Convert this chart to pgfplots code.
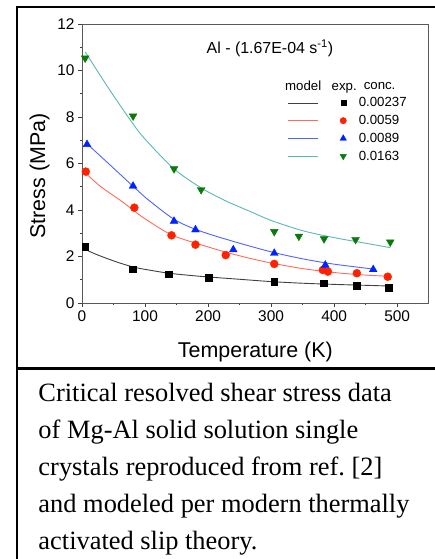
\documentclass[border=0pt]{standalone}
\usepackage{fontspec}
\setmainfont{Liberation Serif}
\newfontfamily\arial{Liberation Sans}
\usepackage{pgfplots}
\pgfplotsset{compat=1.18}
\definecolor{mblack}{HTML}{404040}
\definecolor{mred}{HTML}{FF6B5B}
\definecolor{mblue}{HTML}{4F63FF}
\definecolor{mteal}{HTML}{5BB8B5}
\definecolor{pred}{HTML}{FF2200}
\definecolor{pblue}{HTML}{0022FF}
\definecolor{pgreen}{HTML}{0A7A0A}
\frenchspacing
\begin{document}
\begin{tikzpicture}[x=1bp,y=1bp]
\useasboundingbox (0,0) rectangle (435,559);
\begin{axis}[
  scale only axis, width=346.7bp, height=279bp,
  at={(82bp,256bp)}, anchor=south west,
  xmin=0, xmax=550, ymin=0, ymax=12,
  xtick={0,100,...,500}, ytick={0,2,...,12},
  minor x tick num=1, minor y tick num=1,
  tick pos=left, tick align=outside,
  major tick length=4bp, minor tick length=2.5bp,
  axis line style={draw=black!65, line width=0.8bp},
  every tick/.style={black!75, line width=0.8bp},
  tick label style={font=\arial\fontsize{15.5}{17}\selectfont},
  /pgf/number format/assume math mode=true,
  xlabel={Temperature (K)}, ylabel={Stress (MPa)},
  label style={font=\arial\fontsize{21.5}{24}\selectfont},
  xlabel style={at={(axis description cs:0.5,-0.197)}, anchor=base},
  ylabel style={at={(axis description cs:-0.1067,0.455)}, anchor=base},
  legend style={at={(axis description cs:0.5855,0.80)}, anchor=north west,
    draw=none, fill=none, inner sep=0pt, row sep=3bp,
    font=\arial\fontsize{13.3}{15}\selectfont},
  legend cell align=left,
]
% model curves
\addplot[mblack, line width=0.9bp, smooth, forget plot] coordinates {
(3,2.33) (20,2.12) (39,1.92) (60,1.72) (84,1.53) (110,1.40) (138,1.28) (170,1.19) (200,1.12) (250,1.02) (300,0.92) (350,0.85) (400,0.80) (450,0.76) (487,0.73)};
\addplot[mred, line width=0.9bp, smooth, forget plot] coordinates {
(5,5.6) (30,5.0) (60,4.43) (81,4.0) (100,3.62) (142,2.93) (187,2.52) (229,2.18) (265,1.93) (300,1.72) (350,1.48) (400,1.31) (450,1.20) (487,1.15)};
\addplot[mblue, line width=0.9bp, smooth, forget plot] coordinates {
(7,6.87) (40,6.05) (81,5.02) (100,4.55) (146,3.6) (187,3.1) (240,2.65) (300,2.2) (350,1.9) (400,1.67) (462,1.46)};
\addplot[mteal, line width=0.9bp, smooth, forget plot] coordinates {
(5,10.8) (44,9.16) (81,7.7) (100,7.05) (145,5.79) (189,4.95) (229,4.38) (270,3.9) (300,3.55) (350,3.11) (400,2.81) (450,2.57) (489,2.38)};
% experimental points
\addplot[only marks, mark=square*, mark size=3.3bp, black, forget plot] coordinates {
(5,2.41) (80,1.46) (138,1.23) (201,1.09) (305,0.92) (383,0.85) (436,0.75) (487,0.66)};
\addplot[only marks, mark=*, mark size=4bp, pred, forget plot] coordinates {
(6,5.65) (83,4.10) (142,2.91) (180,2.51) (228,2.06) (305,1.68) (382,1.42) (390,1.35) (436,1.28) (485,1.13)};
\addplot[only marks, mark=triangle*, mark size=4.5bp, pblue, forget plot] coordinates {
(8,6.82) (81,5.03) (146,3.52) (180,3.15) (240,2.29) (305,2.14) (386,1.63) (462,1.44)};
\addplot[only marks, mark=triangle*, mark size=4.5bp, pgreen, every mark/.append style={rotate=180}, forget plot] coordinates {
(5,10.53) (81,8.04) (146,5.77) (189,4.87) (305,3.07) (344,2.87) (384,2.76) (434,2.73) (489,2.62)};
% legend
\addlegendimage{legend image code/.code={
  \node[anchor=base, inner sep=0pt, font=\arial\fontsize{13.3}{15}\selectfont] at (15bp,-4bp) {model};
  \node[anchor=base, inner sep=0pt, font=\arial\fontsize{13.3}{15}\selectfont] at (56bp,-4bp) {exp.};}}
\addlegendentry{\hspace{5bp}conc.}
\addlegendimage{legend image code/.code={
  \draw[mblack, line width=0.9bp] (0bp,0bp) -- (30bp,0bp);
  \draw[black, mark=square*, mark size=2.5bp] plot coordinates {(55bp,0bp)};}}
\addlegendentry{0.00237}
\addlegendimage{legend image code/.code={
  \draw[mred, line width=0.9bp] (0bp,0bp) -- (30bp,0bp);
  \draw[pred, mark=*, mark size=3.2bp] plot coordinates {(55bp,0bp)};}}
\addlegendentry{0.0059}
\addlegendimage{legend image code/.code={
  \draw[mblue, line width=0.9bp] (0bp,0bp) -- (30bp,0bp);
  \draw[pblue, mark=triangle*, mark size=3.7bp] plot coordinates {(55bp,0bp)};}}
\addlegendentry{0.0089}
\addlegendimage{legend image code/.code={
  \draw[mteal, line width=0.9bp] (0bp,0bp) -- (30bp,0bp);
  \draw[pgreen, mark=triangle*, mark size=3.7bp, every mark/.append style={rotate=180}] plot coordinates {(55bp,0bp)};}}
\addlegendentry{0.0163}
\node[font=\arial\fontsize{16}{18}\selectfont, anchor=base] at (axis description cs:0.542,0.895) {Al - (1.67E-04 s\textsuperscript{-1})};
\end{axis}
\draw[line width=2.5bp] (17,0) -- (17,552) -- (440,552);
\draw[line width=2.5bp] (17,190.5) -- (440,190.5);
\begin{scope}[every node/.style={anchor=base west, inner sep=0pt, font=\fontsize{26.5}{30}\selectfont}]
\node at (38.3,157) {Critical resolved shear stress data};
\node at (38.3,120) {of Mg-Al solid solution single};
\node at (38.3,83) {crystals reproduced from ref. [2]};
\node at (38.3,46) {and modeled per modern thermally};
\node at (38.3,9) {activated slip theory.};
\end{scope}
\end{tikzpicture}
\end{document}
